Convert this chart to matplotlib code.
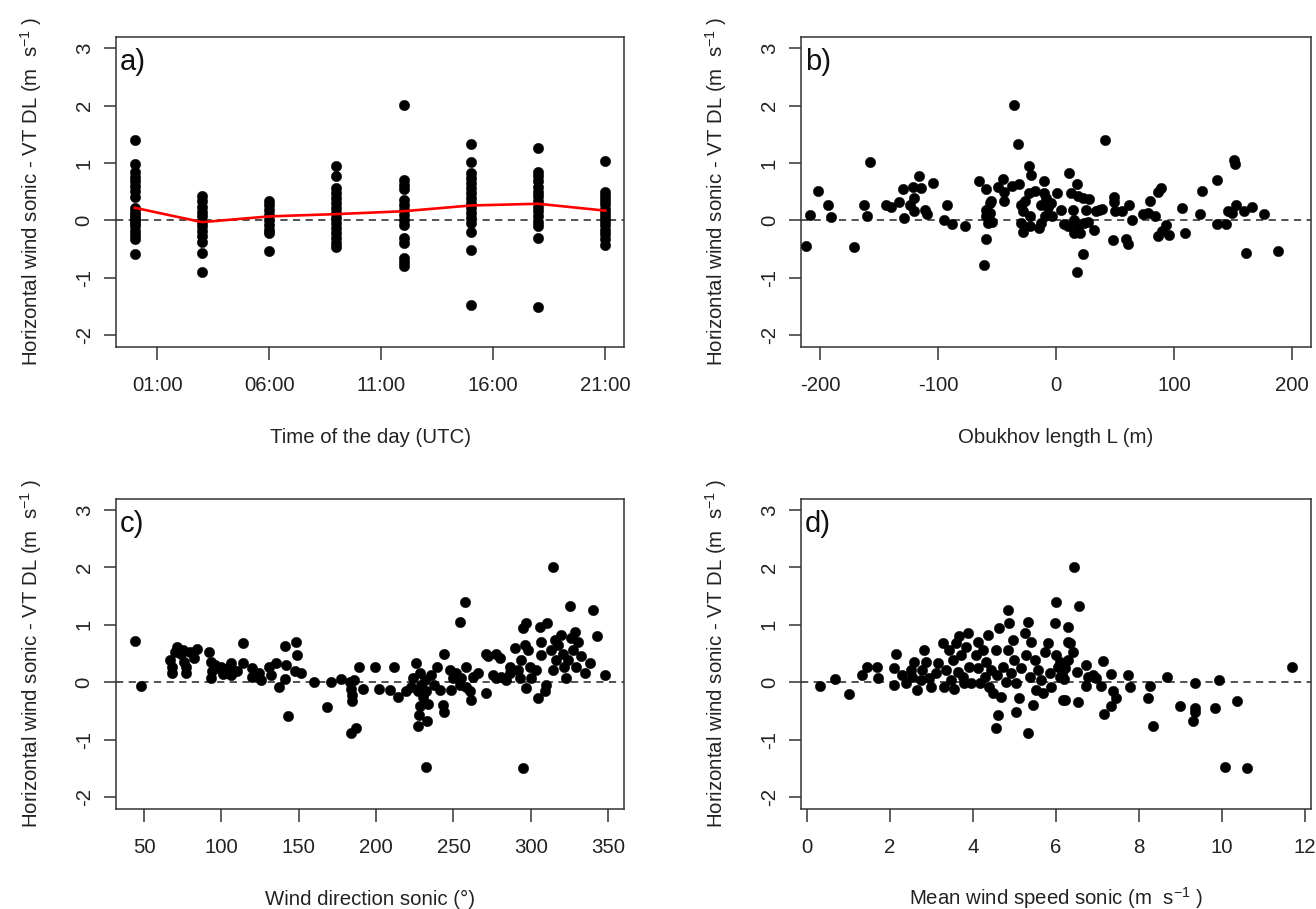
import matplotlib
matplotlib.use("Agg")
import matplotlib.pyplot as plt

plt.rcParams['font.family'] = ['Liberation Sans', 'DejaVu Sans']
plt.rcParams['mathtext.fontset'] = 'custom'
plt.rcParams['mathtext.rm'] = 'Liberation Sans'
plt.rcParams['mathtext.it'] = 'Liberation Sans:italic'
plt.rcParams['mathtext.bf'] = 'Liberation Sans:bold'

# ---- panel a: difference per time of day (UTC hour) ----
hours = [0, 3, 6, 9, 12, 15, 18, 21]
diff_h00 = [1.40, 0.98, 0.85, 0.76, 0.68, 0.60, 0.52, 0.40, 0.22, 0.15, 0.10,
            0.05, 0.0, -0.05, -0.10, -0.18, -0.25, -0.32, -0.58]
diff_h03 = [0.43, 0.33, 0.24, 0.15, 0.07, -0.02, -0.10, -0.19, -0.28, -0.37,
            -0.56, -0.90]
diff_h06 = [0.34, 0.27, 0.19, 0.10, 0.01, -0.08, -0.16, -0.22, -0.53]
diff_h09 = [0.94, 0.78, 0.56, 0.48, 0.39, 0.30, 0.21, 0.13, 0.04, -0.05,
            -0.13, -0.22, -0.31, -0.39, -0.47]
diff_h12 = [2.01, 0.71, 0.62, 0.55, 0.36, 0.27, 0.19, 0.10, 0.01, -0.08,
            -0.31, -0.39, -0.66, -0.73, -0.80]
diff_h15 = [1.33, 1.01, 0.82, 0.74, 0.65, 0.56, 0.48, 0.39, 0.30, 0.21, 0.13,
            0.04, -0.05, -0.21, -0.51, -1.47]
diff_h18 = [1.26, 0.85, 0.77, 0.68, 0.59, 0.50, 0.42, 0.33, 0.24, 0.16, 0.07,
            -0.02, -0.10, -0.31, -1.51]
diff_h21 = [1.04, 0.49, 0.42, 0.35, 0.28, 0.20, 0.13, 0.06, -0.01, -0.08,
            -0.16, -0.24, -0.32, -0.43]
mean_by_hour = [0.22, -0.03, 0.07, 0.11, 0.16, 0.26, 0.29, 0.17]
hour_ticks = [1, 6, 11, 16, 21]
hour_labels = ['01:00', '06:00', '11:00', '16:00', '21:00']

# ---- panel b: Obukhov length ----
obukhov_L = [-212, -208, -202, -193, -191, -171, -163, -160, -158, -144,
             -140, -133, -130, -129, -124, -121, -120, -120, -116, -114,
             -111, -109, -104, -95, -92, -88, -77, -65, -61, -59,
             -59, -59, -59, -58, -56, -56, -55, -54, -49, -45,
             -44, -44, -37, -36, -32, -31, -30, -30, -28, -28,
             -26, -23, -23, -22, -22, -21, -18, -14, -13, -13,
             -10, -10, -9, -8.5, -7, -4, -3.7, 0.6, 4, 6.5,
             10, 11, 13, 14, 15, 15, 18, 18, 19, 19,
             20, 23, 23, 24, 25, 27, 28, 32, 34, 36,
             39, 41.5, 48, 49, 49, 50, 56, 59, 61, 62,
             64, 74, 78, 80, 84, 86, 86, 89, 90, 93,
             96, 107, 109, 122, 124, 136, 136, 144, 146, 149,
             151, 152, 152.5, 159, 161, 166, 176.5, 188]
diff_L = [-0.44, 0.10, 0.52, 0.26, 0.06, -0.46, 0.27, 0.07, 1.01, 0.26,
          0.24, 0.32, 0.55, 0.05, 0.27, 0.58, 0.39, 0.16, 0.78, 0.56,
          0.19, 0.12, 0.66, 0.01, 0.27, -0.06, -0.09, 0.68, -0.77, -0.32,
          0.55, 0.19, 0.07, -0.05, 0.30, 0.13, 0.33, -0.02, 0.58, 0.72,
          0.50, 0.33, 0.60, 2.01, 1.33, 0.64, -0.05, 0.27, -0.20, 0.16,
          0.33, 0.94, 0.48, 0.07, -0.09, 0.79, 0.52, -0.13, 0.27, -0.05,
          0.69, 0.48, 0.07, 0.39, 0.24, 0.30, 0.08, 0.48, 0.19, -0.06,
          -0.09, 0.82, 0.48, 0.19, 0.01, -0.22, 0.64, -0.90, 0.42, -0.10,
          -0.22, 0.39, -0.58, -0.05, 0.19, -0.02, 0.38, -0.16, 0.16, 0.19,
          0.20, 1.40, -0.34, 0.40, 0.32, 0.16, 0.16, -0.32, -0.41, 0.26,
          0.01, 0.12, 0.13, 0.33, 0.07, 0.50, -0.27, 0.56, -0.19, -0.08,
          -0.25, 0.21, -0.22, 0.11, 0.52, 0.71, -0.06, -0.06, 0.16, 0.13,
          1.06, 0.98, 0.26, 0.16, -0.56, 0.23, 0.12, -0.53]

# ---- panel c: wind direction ----
wind_dir = [44, 48, 67, 68, 68, 70, 71, 74, 75, 76,
            77, 77, 80, 82, 84, 92, 93, 94, 93, 97.5,
            100, 102, 104, 106, 106, 108, 103, 107, 110, 96,
            101, 114, 114, 120, 120, 124.5, 125.6, 131, 132, 135,
            137, 141, 142, 141, 143, 148, 149, 147.6, 151.5, 160,
            168, 171, 177, 183, 184, 184.4, 184.4, 186, 189, 191.6,
            184, 187, 199.5, 201.7, 208.8, 211.4, 214.2, 219.5, 222.7, 223.8,
            225.9, 227, 228.1, 229.2, 230.3, 228.1, 227.5, 227, 233, 232.3,
            231.3, 232.3, 233.4, 235.6, 237.7, 239.4, 241, 243.1, 244.2, 244.2,
            247.5, 248.5, 249.6, 251.8, 254, 254, 255, 257.2, 258.3, 258.3,
            260.4, 261.5, 262.6, 265.9, 271.2, 270.8, 272.3, 277.7, 279.9, 275.6,
            277.7, 280.9, 284.1, 286.3, 286.3, 289.5, 291.7, 292.8, 293.8, 294.9,
            297.1, 294.9, 296, 298.2, 297.1, 299.2, 300.3, 303.6, 304.7, 305.7,
            306.4, 306.8, 309, 310.1, 310.7, 313.3, 314.4, 314.4, 315.4, 316.5,
            317.6, 319.8, 320.8, 321.5, 323, 324.1, 325.2, 326.2, 327.3, 328.4,
            329.5, 330.5, 332.7, 334.8, 338.1, 340.2, 343, 348.2]
diff_dir = [0.72, -0.06, 0.39, 0.27, 0.16, 0.53, 0.61, 0.50, 0.57, 0.36,
            0.27, 0.16, 0.52, 0.42, 0.58, 0.52, 0.36, 0.19, 0.07, 0.24,
            0.27, 0.21, 0.25, 0.33, 0.13, 0.19, 0.17, 0.17, 0.20, 0.30,
            0.15, 0.68, 0.34, 0.24, 0.10, 0.16, 0.04, 0.27, 0.13, 0.33,
            -0.08, 0.63, 0.30, 0.06, -0.59, 0.70, 0.48, 0.20, 0.16, 0.01,
            -0.43, 0.01, 0.05, 0.01, -0.11, -0.22, -0.32, 0.04, 0.27, -0.11,
            -0.89, -0.80, 0.26, -0.11, -0.14, 0.27, -0.25, -0.16, -0.08, 0.07,
            0.33, -0.16, 0.16, -0.05, -0.25, -0.42, -0.57, -0.76, -0.67, -1.47,
            0.04, -0.16, -0.37, 0.13, -0.05, 0.27, -0.13, -0.40, 0.50, -0.51,
            0.21, -0.13, 0.07, 0.16, 1.05, -0.05, 0.07, 1.40, 0.27, -0.08,
            -0.16, -0.31, 0.10, 0.16, -0.19, 0.50, 0.45, 0.50, 0.42, 0.13,
            0.07, 0.10, 0.04, 0.16, 0.27, 0.59, 0.21, 0.07, 0.39, 0.94,
            1.03, -1.50, 0.65, 0.56, -0.10, 0.27, 0.07, 0.21, -0.28, 0.97,
            0.71, 0.48, -0.16, -0.05, 1.03, 0.56, 0.21, 2.01, 0.74, 0.39,
            0.65, 0.82, 0.50, 0.27, 0.07, 0.39, 1.33, 0.77, 0.56, 0.88,
            0.27, 0.71, 0.45, 0.16, 0.33, 1.26, 0.80, 0.12]

# ---- panel d: mean wind speed ----
wind_speed = [0.31, 0.67, 1.01, 1.32, 1.45, 1.69, 1.72, 2.14, 2.10, 2.10,
              2.30, 2.38, 2.50, 2.54, 2.58, 2.66, 2.74, 2.78, 2.82, 2.86,
              2.95, 2.99, 3.11, 3.15, 3.27, 3.31, 3.35, 3.43, 3.47, 3.51,
              3.55, 3.59, 3.63, 3.67, 3.71, 3.75, 3.79, 3.83, 3.87, 3.91,
              3.95, 4.07, 4.12, 4.12, 4.16, 4.24, 4.28, 4.32, 4.36, 4.40,
              4.44, 4.48, 4.56, 4.58, 4.60, 4.56, 4.64, 4.68, 4.72, 4.80,
              4.84, 4.84, 4.88, 4.92, 4.96, 5.00, 5.04, 5.04, 5.12, 5.16,
              5.25, 5.29, 5.33, 5.33, 5.37, 5.41, 5.45, 5.49, 5.53, 5.57,
              5.65, 5.69, 5.73, 5.81, 5.85, 5.89, 5.97, 6.01, 6.01, 6.05,
              6.09, 6.17, 6.29, 6.29, 6.29, 6.35, 6.42, 6.43, 6.56, 6.21,
              6.50, 6.74, 6.78, 6.74, 6.90, 6.98, 7.10, 7.14, 7.34, 7.38,
              7.46, 7.34, 7.17, 7.75, 7.79, 6.23, 6.54, 8.27, 8.23, 8.35,
              8.67, 9.00, 9.35, 9.35, 9.35, 9.31, 9.85, 9.94, 10.07, 10.37,
              10.61, 11.70, 6.15, 6.20, 6.10]
diff_speed = [-0.06, 0.06, -0.20, 0.13, 0.27, 0.27, 0.07, 0.50, 0.24, -0.05,
              0.13, -0.02, 0.21, 0.10, 0.36, -0.13, 0.04, 0.21, 0.56, 0.36,
              0.07, -0.08, 0.16, 0.33, 0.68, -0.08, 0.21, 0.56, 0.04, 0.39,
              -0.11, 0.68, 0.18, 0.80, 0.48, 0.10, -0.02, 0.62, 0.85, 0.27,
              -0.02, 0.48, 0.24, 0.71, -0.02, 0.56, 0.10, 0.36, 0.82, -0.08,
              0.21, -0.19, 0.56, 0.13, -0.57, -0.80, 0.94, -0.25, 0.27, 0.01,
              1.26, 0.56, 1.03, 0.16, 0.74, 0.39, -0.02, -0.51, -0.28, 0.24,
              0.85, 0.48, 1.05, -0.89, 0.10, 0.71, -0.39, 0.39, -0.13, 0.21,
              0.04, -0.19, 0.53, 0.68, 0.16, -0.08, 1.03, 1.40, 0.48, 0.27,
              0.10, -0.31, 0.71, 0.39, 0.97, 0.69, 0.52, 2.01, 1.33, 0.24,
              0.18, 0.30, 0.10, -0.06, 0.13, 0.07, -0.06, 0.37, 0.14, -0.15,
              -0.28, -0.41, -0.56, 0.13, -0.08, -0.31, -0.34, -0.06, -0.28, -0.77,
              0.10, -0.42, -0.01, -0.44, -0.52, -0.67, -0.45, 0.04, -1.47, -0.32,
              -1.50, 0.27, 0.15, 0.05, 0.35]

y_ticks = [-2, -1, 0, 1, 2, 3]
y_label = r'Horizontal wind sonic - VT DL (m  s$^{-1}$ )'

fig = plt.figure(figsize=(13.16, 9.09), dpi=100)
ax_a = fig.add_axes([0.0881, 0.6186, 0.3862, 0.341])
ax_b = fig.add_axes([0.6087, 0.6186, 0.3875, 0.341])
ax_c = fig.add_axes([0.0881, 0.1105, 0.3862, 0.341])
ax_d = fig.add_axes([0.6087, 0.1105, 0.3875, 0.341])

dot = dict(ls='none', marker='o', ms=7.5, mfc='black', mec='black', mew=0.3, zorder=3)
fs = 14.7


def style_panel(ax, xticks, xticklabels, xlabel, letter):
    ax.axhline(0, color='#444444', lw=1.3, ls=(0, (4, 3)), zorder=2)
    ax.set_ylim(-2.2, 3.2)
    ax.set_yticks(y_ticks)
    ax.set_yticklabels([str(t) for t in y_ticks], rotation=90, va='center')
    ax.set_xticks(xticks)
    ax.set_xticklabels(xticklabels)
    for sp in ax.spines.values():
        sp.set_color('#333333')
        sp.set_linewidth(1.1)
    ax.tick_params(axis='both', direction='out', length=9, width=1.1,
                   color='#333333', labelsize=fs, labelcolor='#222222')
    ax.tick_params(axis='x', pad=12)
    ax.tick_params(axis='y', pad=7)
    ax.set_ylabel(y_label, fontsize=fs, color='#222222', va='baseline')
    ax.yaxis.set_label_coords(-0.1535, 0.5)
    ax.set_xlabel(xlabel, fontsize=fs, color='#222222', va='baseline')
    ax.xaxis.set_label_coords(0.5, -0.312)
    ax.text(0.008, 0.893, letter, transform=ax.transAxes, fontsize=21,
            ha='left', va='baseline', color='#111111')


# panel a
for h, vals in zip(hours, [diff_h00, diff_h03, diff_h06, diff_h09,
                           diff_h12, diff_h15, diff_h18, diff_h21]):
    ax_a.plot([h] * len(vals), vals, **dot)
ax_a.plot(hours, mean_by_hour, color='red', lw=1.9, zorder=4)
ax_a.margins(x=0.04)
style_panel(ax_a, hour_ticks, hour_labels, 'Time of the day (UTC)', 'a)')

# panel b
ax_b.plot(obukhov_L, diff_L, **dot)
ax_b.set_xlim(-216, 216)
style_panel(ax_b, [-200, -100, 0, 100, 200],
            ['-200', '-100', '0', '100', '200'], 'Obukhov length L (m)', 'b)')

# panel c
ax_c.plot(wind_dir, diff_dir, **dot)
ax_c.margins(x=0.04)
style_panel(ax_c, [50, 100, 150, 200, 250, 300, 350],
            ['50', '100', '150', '200', '250', '300', '350'],
            'Wind direction sonic (°)', 'c)')

# panel d
ax_d.plot(wind_speed, diff_speed, **dot)
ax_d.margins(x=0.04)
style_panel(ax_d, [0, 2, 4, 6, 8, 10, 12],
            ['0', '2', '4', '6', '8', '10', '12'],
            r'Mean wind speed sonic (m  s$^{-1}$ )', 'd)')

fig.savefig('out.png', dpi=100)
